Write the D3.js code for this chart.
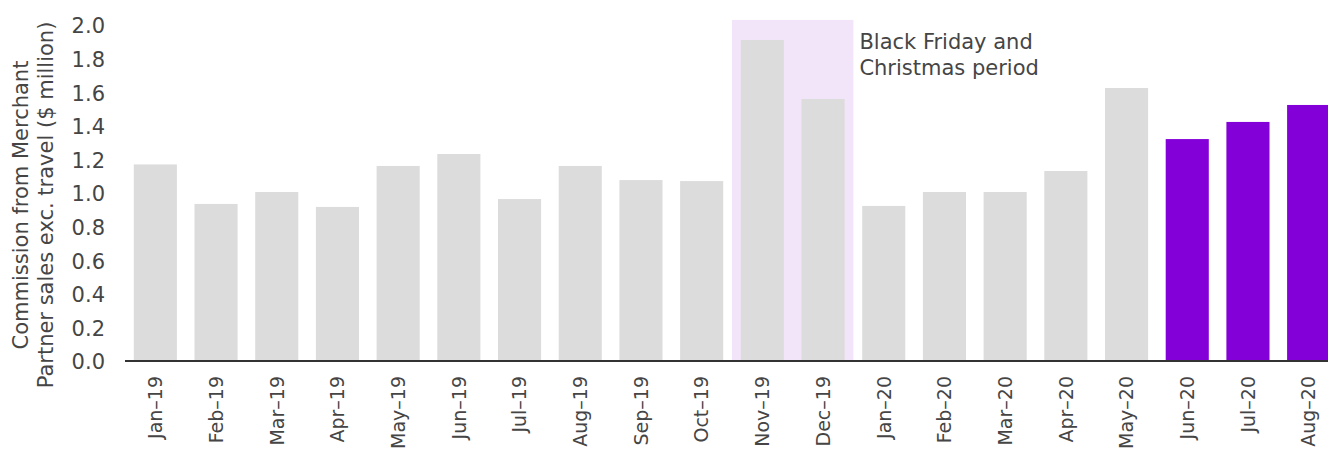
<!DOCTYPE html>
<html>
<head>
<meta charset="utf-8">
<script src="https://cdn.jsdelivr.net/npm/d3@7"></script>
<style>
  html, body { margin: 0; padding: 0; background: #fff; }
  svg { display: block; font-family: "DejaVu Sans", sans-serif; }
</style>
</head>
<body>
<svg id="chart" width="1328" height="452"></svg>
<script>
// Monthly commission from Merchant Partner sales (exc. travel), $ million
const months = ["Jan–19","Feb–19","Mar–19","Apr–19","May–19","Jun–19","Jul–19","Aug–19","Sep–19","Oct–19",
                "Nov–19","Dec–19","Jan–20","Feb–20","Mar–20","Apr–20","May–20","Jun–20","Jul–20","Aug–20"];
const commission = [1.17, 0.935, 1.006, 0.917, 1.161, 1.232, 0.964, 1.161, 1.077, 1.071,
                    1.911, 1.56, 0.923, 1.006, 1.006, 1.131, 1.625, 1.321, 1.423, 1.524];
// Months shown in the accent colour
const recentMonths = ["Jun–20","Jul–20","Aug–20"];
// Shaded seasonal period
const seasonMonths = ["Nov–19","Dec–19"];
const seasonLabel = ["Black Friday and", "Christmas period"];
const yTicks = [0, 0.2, 0.4, 0.6, 0.8, 1.0, 1.2, 1.4, 1.6, 1.8, 2.0];
const yTitle = ["Commission from Merchant", "Partner sales exc. travel ($ million)"];

const svg = d3.select("#chart");
const W = 1328;
const margin = { left: 125, right: -11, top: 25, bottom: 91 };
const H = 452;

const x = d3.scaleBand()
  .domain(months)
  .range([margin.left, W - margin.right])
  .paddingInner(0.29)
  .paddingOuter(0.145);

const y = d3.scaleLinear()
  .domain([0, 2.0])
  .range([H - margin.bottom, margin.top]);

const textColor = "#454545";
const fontSize = 21;

// Seasonal highlight band
const halfGap = x.step() * x.paddingInner() / 2;
const seasonX0 = x(seasonMonths[0]) - halfGap;
const seasonX1 = x(seasonMonths[1]) + x.bandwidth() + halfGap;
svg.append("rect")
  .attr("x", seasonX0)
  .attr("y", y(2.03))
  .attr("width", seasonX1 - seasonX0)
  .attr("height", y(0) - y(2.03))
  .attr("fill", "#f2e5fa");

// Bars
svg.append("g")
  .selectAll("rect")
  .data(months)
  .join("rect")
  .attr("x", d => x(d))
  .attr("width", x.bandwidth())
  .attr("y", (d, i) => y(commission[i]))
  .attr("height", (d, i) => y(0) - y(commission[i]))
  .attr("fill", d => recentMonths.includes(d) ? "#8400d8" : "#dcdcdc");

// Y axis (labels only)
const yAxis = svg.append("g")
  .attr("transform", `translate(${margin.left - 20},0)`)
  .call(d3.axisLeft(y).tickValues(yTicks).tickFormat(d3.format(".1f")).tickSize(0).tickPadding(0));
yAxis.select(".domain").remove();
yAxis.selectAll("text")
  .attr("fill", textColor)
  .attr("font-size", fontSize)
  .attr("font-family", "DejaVu Sans, sans-serif")
  .attr("dy", "0.38em");

// X axis
const xAxis = svg.append("g")
  .attr("transform", `translate(0,${y(0)})`)
  .call(d3.axisBottom(x).tickSize(0).tickPadding(0));
xAxis.select(".domain").remove();
svg.append("line")
  .attr("x1", margin.left).attr("x2", W)
  .attr("y1", y(0)).attr("y2", y(0))
  .attr("stroke", "#333").attr("stroke-width", 2);
xAxis.selectAll("text")
  .attr("fill", textColor)
  .attr("font-size", 19)
  .attr("font-family", "DejaVu Sans, sans-serif")
  .attr("text-anchor", "end")
  .attr("transform", "translate(0,15) rotate(-90)")
  .attr("x", 0)
  .attr("y", 0)
  .attr("dy", "0.36em");

// Y axis title
const title = svg.append("text")
  .attr("transform", `translate(0,${(y(0) + y(2.0)) / 2 + 12}) rotate(-90)`)
  .attr("text-anchor", "middle")
  .attr("fill", textColor)
  .attr("font-size", fontSize);
title.selectAll("tspan")
  .data(yTitle)
  .join("tspan")
  .attr("x", 0)
  .attr("y", (d, i) => 28 + i * 25)
  .text(d => d);

// Season annotation
const note = svg.append("text")
  .attr("fill", textColor)
  .attr("font-size", fontSize);
note.selectAll("tspan")
  .data(seasonLabel)
  .join("tspan")
  .attr("x", seasonX1 + 6)
  .attr("y", (d, i) => 49 + i * 26)
  .text(d => d);
</script>
</body>
</html>
